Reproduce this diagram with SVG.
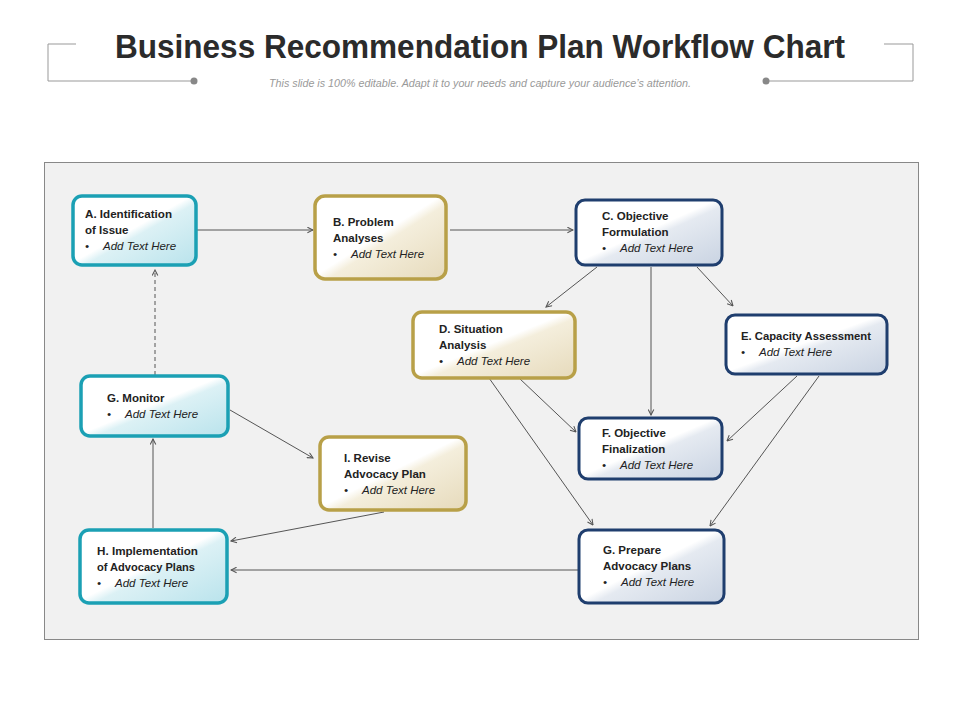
<svg xmlns="http://www.w3.org/2000/svg" width="960" height="720" viewBox="0 0 960 720">
<defs>
<linearGradient id="gt" x1="0" y1="0" x2="1" y2="1"><stop offset="0" stop-color="#fff"/><stop offset="0.48" stop-color="#fff"/><stop offset="0.55" stop-color="#dcf1f5"/><stop offset="1" stop-color="#b9e3ec"/></linearGradient>
<linearGradient id="gg" x1="0" y1="0" x2="1" y2="1"><stop offset="0" stop-color="#fff"/><stop offset="0.48" stop-color="#fff"/><stop offset="0.55" stop-color="#f4eedc"/><stop offset="1" stop-color="#e6dabb"/></linearGradient>
<linearGradient id="gn" x1="0" y1="0" x2="1" y2="1"><stop offset="0" stop-color="#fff"/><stop offset="0.48" stop-color="#fff"/><stop offset="0.55" stop-color="#e5eaf1"/><stop offset="1" stop-color="#c9d3e2"/></linearGradient>
<marker id="ar" viewBox="0 0 10 10" refX="9" refY="5" markerWidth="7" markerHeight="7" orient="auto"><path d="M1,1 L9,5 L1,9" fill="none" stroke="#555" stroke-width="1.5"/></marker>
</defs>
<style>
text{font-family:"Liberation Sans",Arial,sans-serif;fill:#222}
.h{font-size:11.5px;font-weight:bold}
.b{font-size:11.5px;font-style:italic}
.t rect{stroke:#1ba0b4;stroke-width:3.5;fill:url(#gt)}
.g rect{stroke:#b8a048;stroke-width:3.5;fill:url(#gg)}
.n rect{stroke:#1f3e6e;stroke-width:3;fill:url(#gn)}
#connectors line{stroke:#555;stroke-width:1;marker-end:url(#ar)}
</style>
<rect width="960" height="720" fill="#fff"/>
<text x="480" y="58" text-anchor="middle" font-size="34" font-weight="bold" textLength="730" lengthAdjust="spacingAndGlyphs" style="fill:#2b2b2b">Business Recommendation Plan Workflow Chart</text>
<text x="480" y="87" text-anchor="middle" font-size="10" font-style="italic" style="fill:#999" textLength="422" lengthAdjust="spacingAndGlyphs">This slide is 100% editable. Adapt it to your needs and capture your audience’s attention.</text>
<path d="M76,44 H48 V81 H194 M884,44 H913 V81 H766" fill="none" stroke="#999" stroke-width="1"/>
<circle cx="194" cy="81" r="3.5" fill="#888"/><circle cx="766" cy="81" r="3.5" fill="#888"/>
<rect x="44.5" y="162.5" width="874" height="477" fill="#f1f1f1" stroke="#888"/>
<g id="connectors">
<line x1="196" y1="230" x2="313" y2="230"/>
<line x1="450" y1="230" x2="573" y2="230"/>
<line x1="597" y1="267" x2="546" y2="307"/>
<line x1="651" y1="267" x2="651" y2="415"/>
<line x1="697" y1="267" x2="733" y2="306"/>
<line x1="519" y1="378" x2="576" y2="432"/>
<line x1="489" y1="378" x2="593" y2="525"/>
<line x1="797" y1="376" x2="727" y2="441"/>
<line x1="819" y1="376" x2="710" y2="526"/>
<line x1="578" y1="570" x2="231" y2="570"/>
<line x1="384" y1="512" x2="231" y2="541"/>
<line x1="153" y1="528" x2="153" y2="439"/>
<line x1="155" y1="375" x2="155" y2="270" stroke-dasharray="4,3"/>
<line x1="230" y1="410" x2="313" y2="458"/>
</g>
<g id="nA" class="t"><rect x="73" y="196" width="123" height="69" rx="9"/><text class="h" x="85" y="218" textLength="87" lengthAdjust="spacingAndGlyphs">A. Identification</text><text class="h" x="85" y="234">of Issue</text><text class="b" x="85" y="250">•<tspan x="103">Add Text Here</tspan></text></g>
<g id="nB" class="g"><rect x="315" y="196" width="131" height="83" rx="10"/><text class="h" x="333" y="226">B. Problem</text><text class="h" x="333" y="242">Analyses</text><text class="b" x="333" y="258">•<tspan x="351">Add Text Here</tspan></text></g>
<g id="nC" class="n"><rect x="576" y="200" width="146" height="65" rx="9"/><text class="h" x="602" y="220">C. Objective</text><text class="h" x="602" y="236">Formulation</text><text class="b" x="602" y="252">•<tspan x="620">Add Text Here</tspan></text></g>
<g id="nD" class="g"><rect x="413" y="312" width="162" height="66" rx="9"/><text class="h" x="439" y="333">D. Situation</text><text class="h" x="439" y="349">Analysis</text><text class="b" x="439" y="365">•<tspan x="457">Add Text Here</tspan></text></g>
<g id="nE" class="n"><rect x="726" y="315" width="161" height="59" rx="9"/><text class="h" x="741" y="340" textLength="130" lengthAdjust="spacingAndGlyphs">E. Capacity Assessment</text><text class="b" x="741" y="356">•<tspan x="759">Add Text Here</tspan></text></g>
<g id="nGm" class="t"><rect x="81" y="376" width="147" height="60" rx="9"/><text class="h" x="107" y="402">G. Monitor</text><text class="b" x="107" y="418">•<tspan x="125">Add Text Here</tspan></text></g>
<g id="nF" class="n"><rect x="579" y="418" width="143" height="61" rx="9"/><text class="h" x="602" y="437">F. Objective</text><text class="h" x="602" y="453">Finalization</text><text class="b" x="602" y="469">•<tspan x="620">Add Text Here</tspan></text></g>
<g id="nI" class="g"><rect x="320" y="437" width="146" height="73" rx="9"/><text class="h" x="344" y="462">I. Revise</text><text class="h" x="344" y="478">Advocacy Plan</text><text class="b" x="344" y="494">•<tspan x="362">Add Text Here</tspan></text></g>
<g id="nH" class="t"><rect x="80" y="530" width="147" height="73" rx="9"/><text class="h" x="97" y="555" textLength="101" lengthAdjust="spacingAndGlyphs">H. Implementation</text><text class="h" x="97" y="571" textLength="98" lengthAdjust="spacingAndGlyphs">of Advocacy Plans</text><text class="b" x="97" y="587">•<tspan x="115">Add Text Here</tspan></text></g>
<g id="nGp" class="n"><rect x="579" y="530" width="145" height="73" rx="9"/><text class="h" x="603" y="554">G. Prepare</text><text class="h" x="603" y="570">Advocacy Plans</text><text class="b" x="603" y="586">•<tspan x="621">Add Text Here</tspan></text></g>
</svg>
